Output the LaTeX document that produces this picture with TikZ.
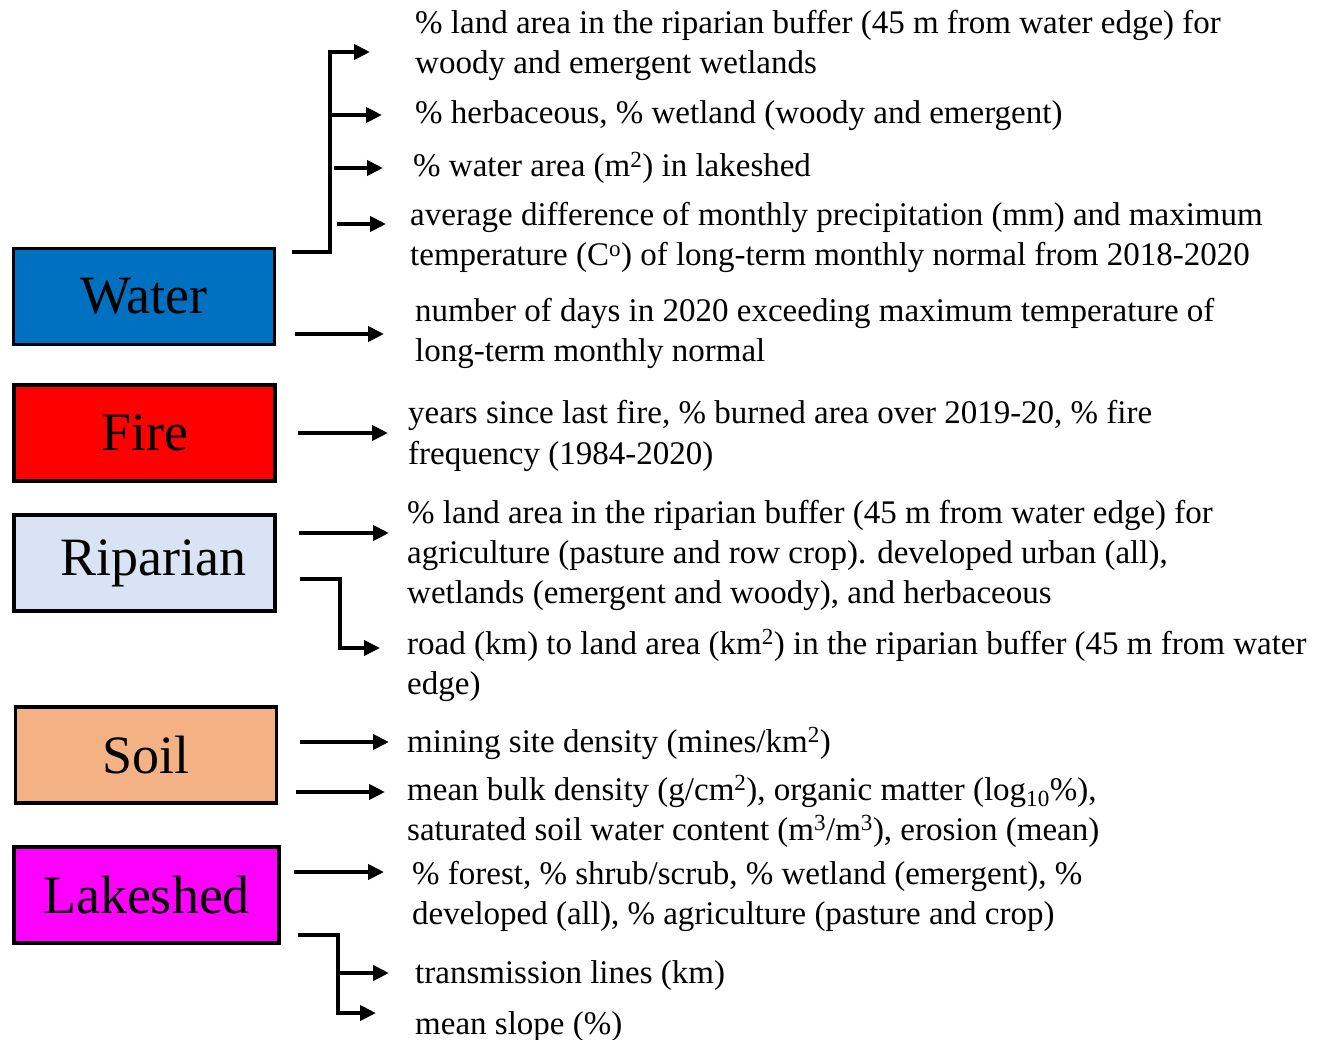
\documentclass[tikz,border=0pt]{standalone}
\usepackage{fontspec}
\setmainfont{Liberation Serif}
\usetikzlibrary{arrows.meta}
\definecolor{cwater}{RGB}{0,112,192}
\definecolor{cfire}{RGB}{255,0,0}
\definecolor{criparian}{RGB}{218,227,243}
\definecolor{csoil}{RGB}{244,177,131}
\definecolor{clake}{RGB}{255,0,255}
\begin{document}
\begin{tikzpicture}[x=1pt,y=-1pt,
  catbox/.style={draw=black,line width=3.5pt,minimum width=261pt,minimum height=96pt,
    inner sep=0pt,font=\fontsize{54}{60}\selectfont},
  desc/.style={anchor=base west,align=left,inner sep=0pt,font=\fontsize{33}{40}\selectfont},
  arr/.style={line width=4pt,-{Triangle[length=16pt,width=15pt]}},
  ln/.style={line width=4pt}]
\useasboundingbox (0,0) rectangle (1317,1040);
% category boxes
\node[catbox,fill=cwater]    (water) at (144,296.5) {Water};
\node[catbox,fill=cfire]     (fire)  at (144.5,433) {Fire};
\node[catbox,fill=criparian] (rip)   at (144.5,563) {\hspace{18pt}Riparian};
\node[catbox,fill=csoil]     (soil)  at (146,755) {Soil};
\node[catbox,fill=clake,minimum width=265pt] (lake) at (146.5,895) {Lakeshed};
% descriptions (anchor = baseline of the last line)
\node[desc] (t1) at (415,74) {\% land area in the riparian buffer (45 m from water edge) for\\woody and emergent wetlands};
\node[desc] (t2) at (415,124) {\% herbaceous, \% wetland (woody and emergent)};
\node[desc] (t3) at (413,177) {\% water area (m\textsuperscript{2}) in lakeshed};
\node[desc] (t4) at (410,266) {average difference of monthly precipitation (mm) and maximum\\temperature (C\textsuperscript{o}) of long-term monthly normal from 2018-2020};
\node[desc] (t5) at (415,362) {number of days in 2020 exceeding maximum temperature of\\long-term monthly normal};
\node[desc] (t6) at (408,464) {years since last fire, \% burned area over 2019-20, \% fire\\frequency (1984-2020)};
\node[desc] (t7) at (407,603) {\% land area in the riparian buffer (45 m from water edge) for\\agriculture (pasture and row crop). developed urban (all),\\wetlands (emergent and woody), and herbaceous};
\node[desc] (t8) at (407,694) {road (km) to land area (km\textsuperscript{2}) in the riparian buffer (45 m from water\\edge)};
\node[desc] (t9) at (407,752) {mining site density (mines/km\textsuperscript{2})};
\node[desc] (t10) at (407,840) {mean bulk density (g/cm\textsuperscript{2}), organic matter (log\textsubscript{10}\%),\\saturated soil water content (m\textsuperscript{3}/m\textsuperscript{3}), erosion (mean)};
\node[desc] (t11) at (412,924) {\% forest, \% shrub/scrub, \% wetland (emergent), \%\\developed (all), \% agriculture (pasture and crop)};
\node[desc] (t12) at (415,983) {transmission lines (km)};
\node[desc] (t13) at (415,1034) {mean slope (\%)};
% connector points
\coordinate (wA) at (292,252);
\coordinate (wV) at (330,252);
\coordinate (wT) at (330,52);
\coordinate (rA) at (300,579);
\coordinate (rV) at (340,579);
\coordinate (lA) at (298,935);
\coordinate (lV) at (338,935);
% water connectors
\draw[arr] (wA) -- (wV) -- (wT) -- (370,52);
\draw[arr] (330,115) -- (382,115);
\draw[arr] (334,168) -- (383,168);
\draw[arr] (337,224) -- (386,224);
\draw[arr] (295,334) -- (384,334);
% fire
\draw[arr] (298,433) -- (388,433);
% riparian
\draw[arr] (299,533) -- (389,533);
\draw[arr] (rA) -- (rV) -- (340,648) -- (380,648);
% soil
\draw[arr] (300,742) -- (389,742);
\draw[arr] (296,792) -- (385,792);
% lakeshed
\draw[arr] (294,872) -- (384,872);
\draw[arr] (lA) -- (lV) -- (338,1013) -- (376,1013);
\draw[arr] (338,973) -- (389,973);
\end{tikzpicture}
\end{document}
